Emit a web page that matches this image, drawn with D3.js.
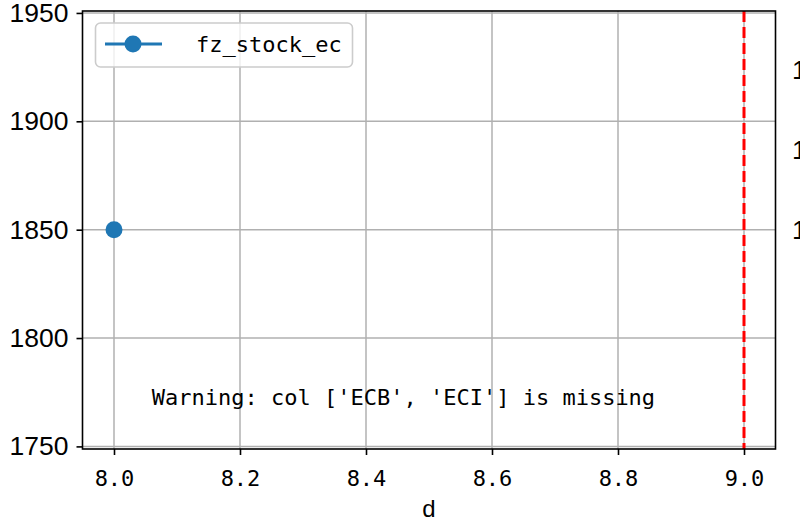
<!DOCTYPE html>
<html><head><meta charset="utf-8">
<script src="https://cdn.jsdelivr.net/npm/d3@7"></script>
<style>body{margin:0;background:#fff}svg{display:block}</style>
</head><body>
<svg id="c" width="800" height="520"></svg>
<script>
const xValues = [8.0];
const seriesValues = [1850];
const seriesName = "fz_stock_ec";
const xTicks = [8.0, 8.2, 8.4, 8.6, 8.8, 9.0];
const yTicks = [1750, 1800, 1850, 1900, 1950];
const vLineX = [9.0];
const rightTickValues = [3, 2, 1];
const rightTickLabels = ["1", "1", "1"];
const xLabel = "d";
const warningText = "Warning: col ['ECB', 'ECI'] is missing";

const svg = d3.select("#c");
const L = 82.5, R = 775.5, T = 11, B = 449;
const x = d3.scaleLinear().domain([7.95, 9.05]).range([L, R]);
const y = d3.scaleLinear().domain([1748.8, 1950.9]).range([B, T]);
const yR = d3.scaleLinear().domain([1, 3]).range([230, 70]);
const mono = "'DejaVu Sans Mono', monospace";
const sans = "'Liberation Sans', Arial, sans-serif";

// grid
const g = svg.append("g");
g.selectAll("line.gx").data(xTicks).join("line")
  .attr("x1", d => x(d)).attr("x2", d => x(d)).attr("y1", T).attr("y2", B)
  .attr("stroke", "#b0b0b0").attr("stroke-width", 1.5);
g.selectAll("line.gy").data(yTicks).join("line")
  .attr("y1", d => y(d)).attr("y2", d => y(d)).attr("x1", L).attr("x2", R)
  .attr("stroke", "#b0b0b0").attr("stroke-width", 1.5);

// red dashed vertical line
svg.selectAll("line.vl").data(vLineX).join("line")
  .attr("x1", d => x(d)).attr("x2", d => x(d)).attr("y1", T).attr("y2", B)
  .attr("stroke", "#ff0000").attr("stroke-width", 3).attr("stroke-dasharray", "11,5");

// series
svg.append("path").datum(xValues.map((d, i) => [d, seriesValues[i]]))
  .attr("d", d3.line().x(d => x(d[0])).y(d => y(d[1])))
  .attr("fill", "none").attr("stroke", "#1f77b4").attr("stroke-width", 3);
svg.selectAll("circle.pt").data(xValues).join("circle")
  .attr("cx", d => x(d)).attr("cy", (d, i) => y(seriesValues[i])).attr("r", 8.5)
  .attr("fill", "#1f77b4");

// spines
svg.append("rect").attr("x", L).attr("y", T).attr("width", R - L).attr("height", B - T)
  .attr("fill", "none").attr("stroke", "#000").attr("stroke-width", 1.6);

// y axis
const yAxis = svg.append("g").attr("transform", `translate(${L},0)`)
  .call(d3.axisLeft(y).tickValues(yTicks).tickSize(6).tickPadding(8).tickFormat(d3.format("d")));
yAxis.select(".domain").remove();
yAxis.selectAll("line").attr("stroke-width", 1.6);
yAxis.selectAll("text").attr("font-family", sans).attr("font-size", 26.5).attr("fill", "#000");

// x axis
const xAxis = svg.append("g").attr("transform", `translate(0,${B})`)
  .call(d3.axisBottom(x).tickValues(xTicks).tickSize(6).tickPadding(15).tickFormat(d3.format(".1f")));
xAxis.select(".domain").remove();
xAxis.selectAll("line").attr("stroke-width", 1.6);
xAxis.selectAll("text").attr("font-family", mono).attr("font-size", 22).attr("fill", "#000");

// x label
svg.append("text").attr("x", (L + R) / 2).attr("y", 516.5).attr("text-anchor", "middle")
  .attr("font-family", sans).attr("font-size", 24).text(xLabel);

// right cut-off labels
svg.selectAll("text.rt").data(rightTickValues).join("text")
  .attr("x", 792).attr("y", d => yR(d)).attr("dy", "0.35em")
  .attr("font-family", sans).attr("font-size", 26.5).text((d, i) => rightTickLabels[i]);

// warning text at axes fraction (0.1, 0.1)
svg.append("text").attr("x", L + 0.1 * (R - L)).attr("y", B - 0.1 * (B - T))
  .attr("font-family", mono).attr("font-size", 22).text(warningText);

// legend
const lg = svg.append("g");
lg.append("rect").attr("x", 95.5).attr("y", 23).attr("width", 257).attr("height", 44).attr("rx", 5)
  .attr("fill", "#fff").attr("fill-opacity", 0.8).attr("stroke", "#cccccc").attr("stroke-width", 1.6);
lg.append("line").attr("x1", 105).attr("x2", 162).attr("y1", 44).attr("y2", 44)
  .attr("stroke", "#1f77b4").attr("stroke-width", 3);
lg.append("circle").attr("cx", 133).attr("cy", 44).attr("r", 8.5).attr("fill", "#1f77b4");
lg.append("text").attr("x", 196).attr("y", 44).attr("dy", "0.35em")
  .attr("font-family", mono).attr("font-size", 22).text(seriesName);
</script>
</body></html>
